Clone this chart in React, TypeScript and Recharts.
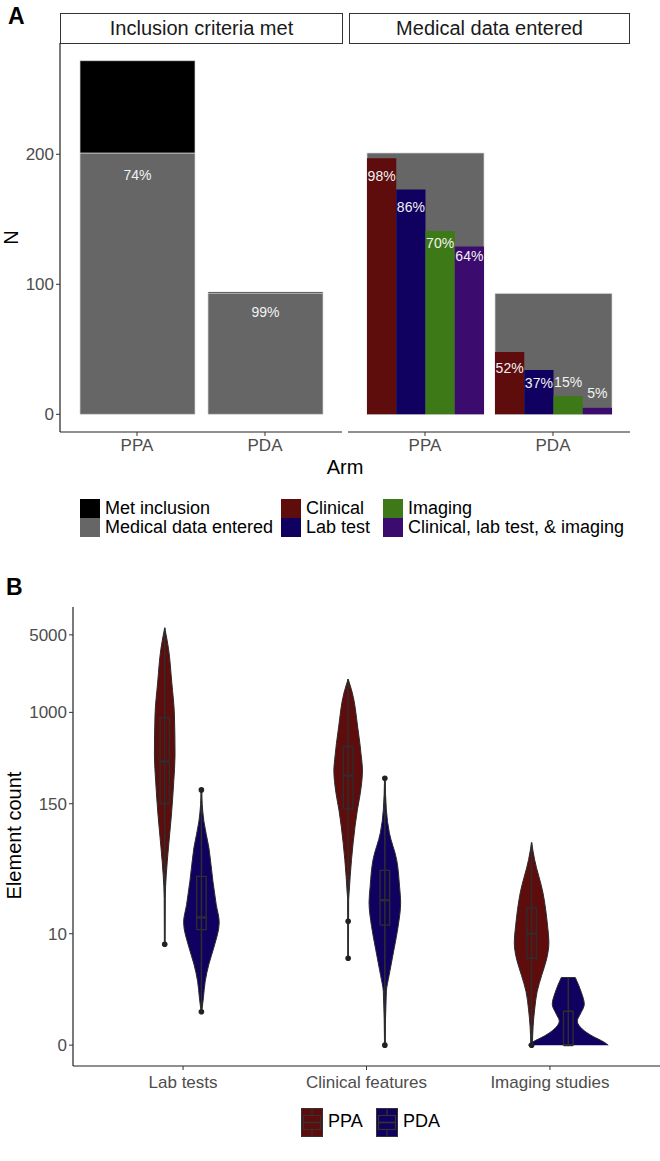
import React from 'react'
import { Area, Bar, BarChart, ComposedChart, LabelList, Line, Scatter, XAxis, YAxis } from 'recharts'

// ---------- Panel A data ----------
const arms = ['PPA', 'PDA']
const metInclusion = [272, 94]
const medicalEntered = [201, 93]
const clinical = [197, 48]
const labTest = [173, 34]
const imaging = [141, 14]
const combined = [129, 5]
const nTicks = [0, 100, 200]

// ---------- Panel B data ----------
const featureTypes = ['Lab tests', 'Clinical features', 'Imaging studies']
const countTicks = [0, 10, 150, 1000, 5000]

// violin outlines: element count -> relative density
const ppaLabCounts = [8, 21, 34, 60, 119, 237, 414, 948, 1876, 3793, 5780]
const ppaLabDensity = [0.3, 0.5, 1.5, 3.7, 6.7, 9, 10.3, 9.7, 7, 3.7, 0]
const pdaLabCounts = [1.5, 2.3, 3.5, 5.2, 7.5, 12.7, 18.5, 30, 60, 104, 147, 200]
const pdaLabDensity = [0.3, 2, 3.8, 7.5, 12.5, 17.8, 14.8, 11.5, 7.5, 2.5, 0.8, 0.3]
const ppaClinCounts = [5.9, 20.5, 23.7, 33, 67, 132, 188, 303, 373, 740, 1494, 1995]
const ppaClinDensity = [0.3, 0.5, 1, 2, 5, 9.2, 12.2, 14.3, 13.5, 9.5, 4.2, 0]
const pdaClinCounts = [0, 2.7, 4, 7.2, 11.7, 19.3, 26.9, 47, 82, 132, 255]
const pdaClinDensity = [0.3, 1.5, 4.2, 9.2, 13.3, 15.8, 14.7, 11.8, 4.5, 1.5, 0.3]
const ppaImgCounts = [0, 0.8, 1.6, 2.7, 4, 5.8, 8.3, 11.7, 23.7, 47, 67]
const ppaImgDensity = [0.8, 1.5, 3, 5.5, 10, 15, 17.3, 16, 11.3, 3, 0]
const pdaImgCounts = [0, 0.12, 0.38, 0.68, 1.04, 1.38, 1.91, 2.67, 3.82]
const pdaImgDensity = [40, 36, 24, 14, 9, 12, 16, 13, 7]

// boxplot stats per feature type (Lab, Clinical, Imaging)
const ppaQ1 = [150, 135, 5.9]
const ppaMedian = [361, 270, 10]
const ppaQ3 = [896, 492, 17.2]
const pdaQ1 = [10.9, 12, 0]
const pdaMedian = [14.1, 20.2, 0]
const pdaQ3 = [33.2, 37.6, 1.53]
const ppaOutliers = [[8], [13, 5.9], [0]]
const pdaOutliers = [[200, 1.5], [255, 0], []]

const RED = '#5e0c0c'
const NAVY = '#10005f'
const GREEN = '#3d7a17'
const PURPLE = '#3c0b6e'
const GREY = '#666666'
const AXIS = '#222222'
const TICK_TEXT = '#4d4d4d'
const FONT = '"Liberation Sans", Arial, Helvetica, sans-serif'

const pseudoLog = (v: number) => Math.asinh(v / 2) / Math.LN10
const VIOLIN_SCALE = 1 / 183.4
const DODGE = 0.1
const BOX_HALF = 0.026

const pct = (v: number, total: number) => `${Math.round((v / total) * 100)}%`

const leftData = arms.map((arm, i) => ({
  arm,
  medical: medicalEntered[i],
  rest: metInclusion[i] - medicalEntered[i],
  label: pct(medicalEntered[i], metInclusion[i]),
}))

const rightData = arms.map((arm, i) => ({
  arm,
  medical: medicalEntered[i],
  clinical: clinical[i],
  labTest: labTest[i],
  imaging: imaging[i],
  combined: combined[i],
  clinicalPct: pct(clinical[i], medicalEntered[i]),
  labPct: pct(labTest[i], medicalEntered[i]),
  imagingPct: pct(imaging[i], medicalEntered[i]),
  combinedPct: pct(combined[i], medicalEntered[i]),
}))

// label nudges (px from bar top)
const leftLabelDy = [22, 19]
const clinicalDy = [18, 16]
const labDy = [18, 13]
const imagingDy = [12, -14]
const combinedDy = [9, -15]

const pctLabel = (dy: number[]) => (p: any) => {
  const vb = p.viewBox || p
  const x = Number(vb.x) + Number(vb.width) / 2
  const y = Number(vb.y) + dy[p.index]
  return (
    <text x={x} y={y} textAnchor="middle" dominantBaseline="central" fill="#f2f2f2" fontSize={14} fontFamily={FONT}>
      {p.value}
    </text>
  )
}

const Y_DOMAIN_A: [number, number] = [-13.6, 285.6]

function Strip({ left, width, text }: { left: number; width: number; text: string }) {
  return (
    <div
      style={{
        position: 'absolute', left, top: 13, width, height: 31, boxSizing: 'border-box',
        border: '1.3px solid #333', display: 'flex', alignItems: 'center', justifyContent: 'center',
        fontSize: 20, color: '#1a1a1a',
      }}
    >
      {text}
    </div>
  )
}

function LegendKey({ left, top, color, text }: { left: number; top: number; color: string; text: string }) {
  return (
    <>
      <div style={{ position: 'absolute', left, top, width: 20, height: 19, background: color }} />
      <div style={{ position: 'absolute', left: left + 25, top, height: 19, lineHeight: '19px', fontSize: 18, whiteSpace: 'nowrap' }}>
        {text}
      </div>
    </>
  )
}

function ViolinKey({ left, color }: { left: number; color: string }) {
  return (
    <svg style={{ position: 'absolute', left, top: 1108 }} width={22} height={29}>
      <rect x={0.5} y={0.5} width={21} height={28} fill={color} stroke="#333" strokeWidth={1} />
      <rect x={2.5} y={7.5} width={17} height={14} fill="none" stroke="#333" strokeWidth={1.2} />
      <line x1={2.5} x2={19.5} y1={14.5} y2={14.5} stroke="#333" strokeWidth={1.6} />
      <line x1={11} x2={11} y1={1} y2={7.5} stroke="#333" strokeWidth={1.2} />
      <line x1={11} x2={11} y1={21.5} y2={28} stroke="#333" strokeWidth={1.2} />
    </svg>
  )
}

const violinSpecs = [
  { arm: 0, feature: 0, counts: ppaLabCounts, density: ppaLabDensity },
  { arm: 1, feature: 0, counts: pdaLabCounts, density: pdaLabDensity },
  { arm: 0, feature: 1, counts: ppaClinCounts, density: ppaClinDensity },
  { arm: 1, feature: 1, counts: pdaClinCounts, density: pdaClinDensity },
  { arm: 0, feature: 2, counts: ppaImgCounts, density: ppaImgDensity },
  { arm: 1, feature: 2, counts: pdaImgCounts, density: pdaImgDensity },
]

function violinSeries() {
  const out: React.ReactNode[] = []
  violinSpecs.forEach((v, k) => {
    const center = v.feature + 1 + (v.arm === 0 ? -DODGE : DODGE)
    const color = v.arm === 0 ? RED : NAVY
    const q1 = (v.arm === 0 ? ppaQ1 : pdaQ1)[v.feature]
    const med = (v.arm === 0 ? ppaMedian : pdaMedian)[v.feature]
    const q3 = (v.arm === 0 ? ppaQ3 : pdaQ3)[v.feature]
    const outline = v.counts.map((c, i) => ({
      t: pseudoLog(c),
      range: [center - v.density[i] * VIOLIN_SCALE, center + v.density[i] * VIOLIN_SCALE],
    }))
    const top = outline[outline.length - 1]
    const topEdge = [
      { t: top.t, x: top.range[0] },
      { t: top.t, x: top.range[1] },
    ]
    const whisker = [
      { t: pseudoLog(v.counts[0]), x: center },
      { t: pseudoLog(v.counts[v.counts.length - 1]), x: center },
    ]
    const box = [
      { t: pseudoLog(q1), x: center - BOX_HALF },
      { t: pseudoLog(q1), x: center + BOX_HALF },
      { t: pseudoLog(q3), x: center + BOX_HALF },
      { t: pseudoLog(q3), x: center - BOX_HALF },
      { t: pseudoLog(q1), x: center - BOX_HALF },
    ]
    const median = [
      { t: pseudoLog(med), x: center - BOX_HALF },
      { t: pseudoLog(med), x: center + BOX_HALF },
    ]
    out.push(
      <Area key={`v${k}`} data={outline} dataKey="range" type="monotone" fill={color} fillOpacity={1}
        stroke="#2b2b2b" strokeWidth={1} isAnimationActive={false} dot={false} activeDot={false} />,
      <Line key={`e${k}`} data={topEdge} dataKey="x" type="linear" stroke="#2b2b2b" strokeWidth={1}
        isAnimationActive={false} dot={false} activeDot={false} />,
      <Line key={`w${k}`} data={whisker} dataKey="x" type="linear" stroke="#2e2e2e" strokeWidth={1.5}
        isAnimationActive={false} dot={false} activeDot={false} />,
      <Line key={`b${k}`} data={box} dataKey="x" type="linear" stroke="#2e2e2e" strokeWidth={1.4}
        isAnimationActive={false} dot={false} activeDot={false} />,
      <Line key={`m${k}`} data={median} dataKey="x" type="linear" stroke="#2e2e2e" strokeWidth={2.2}
        isAnimationActive={false} dot={false} activeDot={false} />,
    )
  })
  const dots: { x: number; t: number }[] = []
  featureTypes.forEach((_, f) => {
    ppaOutliers[f].forEach((c) => dots.push({ x: f + 1 - DODGE, t: pseudoLog(c) }))
    pdaOutliers[f].forEach((c) => dots.push({ x: f + 1 + DODGE, t: pseudoLog(c) }))
  })
  out.push(
    <Scatter key="outliers" data={dots} dataKey="x" fill="#222" isAnimationActive={false}
      shape={(p: any) => <circle cx={p.cx} cy={p.cy} r={2.8} fill="#222" />} />,
  )
  return out
}

export default function App() {
  const tickStyle = { fontSize: 17, fill: TICK_TEXT, fontFamily: FONT }
  return (
    <div style={{ position: 'absolute', left: 0, top: 0, width: 660, height: 1161, background: '#fff', fontFamily: FONT, color: '#000' }}>
      {/* Panel A */}
      <div style={{ position: 'absolute', left: 8, top: 3, fontSize: 23, fontWeight: 'bold' }}>A</div>
      <Strip left={60} width={283} text="Inclusion criteria met" />
      <Strip left={349} width={281} text="Medical data entered" />

      <div style={{ position: 'absolute', left: 0, top: 0 }}>
        <BarChart width={342} height={470} data={leftData} margin={{ top: 43, right: 0, bottom: 0, left: 0 }}>
          <XAxis dataKey="arm" padding={{ left: 13, right: 13 }} height={38} tickSize={4} tickMargin={3}
            tick={tickStyle} axisLine={{ stroke: AXIS, strokeWidth: 1.2 }} tickLine={{ stroke: '#333' }} />
          <YAxis width={60} type="number" domain={Y_DOMAIN_A} ticks={nTicks} allowDataOverflow tickSize={4} tickMargin={2}
            tick={tickStyle} axisLine={{ stroke: AXIS, strokeWidth: 1.2 }} tickLine={{ stroke: '#333' }} />
          <Bar dataKey="medical" stackId="a" fill={GREY} barSize={115} stroke="#d6d6d6" strokeWidth={0.7} isAnimationActive={false}>
            <LabelList dataKey="label" content={pctLabel(leftLabelDy)} />
          </Bar>
          <Bar dataKey="rest" stackId="a" fill="#000" barSize={115} stroke="#d6d6d6" strokeWidth={0.7} isAnimationActive={false} />
        </BarChart>
      </div>

      <div style={{ position: 'absolute', left: 348, top: 0 }}>
        <BarChart width={282} height={470} data={rightData} margin={{ top: 43, right: 0, bottom: 0, left: 0 }} barGap={0}>
          <XAxis xAxisId="bg" dataKey="arm" padding={{ left: 13, right: 13 }} hide height={0} />
          <XAxis xAxisId="main" dataKey="arm" padding={{ left: 13, right: 13 }} height={38} tickSize={4} tickMargin={3}
            tick={tickStyle} axisLine={{ stroke: AXIS, strokeWidth: 1.2 }} tickLine={{ stroke: '#333' }} />
          <YAxis hide type="number" domain={Y_DOMAIN_A} allowDataOverflow />
          <Bar xAxisId="bg" dataKey="medical" fill={GREY} barSize={117} stroke="#d6d6d6" strokeWidth={0.7} isAnimationActive={false} />
          <Bar xAxisId="main" dataKey="clinical" fill={RED} barSize={29.25} isAnimationActive={false}>
            <LabelList dataKey="clinicalPct" content={pctLabel(clinicalDy)} />
          </Bar>
          <Bar xAxisId="main" dataKey="labTest" fill={NAVY} barSize={29.25} isAnimationActive={false}>
            <LabelList dataKey="labPct" content={pctLabel(labDy)} />
          </Bar>
          <Bar xAxisId="main" dataKey="imaging" fill={GREEN} barSize={29.25} isAnimationActive={false}>
            <LabelList dataKey="imagingPct" content={pctLabel(imagingDy)} />
          </Bar>
          <Bar xAxisId="main" dataKey="combined" fill={PURPLE} barSize={29.25} isAnimationActive={false}>
            <LabelList dataKey="combinedPct" content={pctLabel(combinedDy)} />
          </Bar>
        </BarChart>
      </div>

      <div style={{ position: 'absolute', left: 4, top: 226, fontSize: 20, transform: 'rotate(-90deg)' }}>N</div>
      <div style={{ position: 'absolute', left: 245, width: 200, top: 456, fontSize: 20, textAlign: 'center' }}>Arm</div>

      <LegendKey left={80} top={499} color="#000" text="Met inclusion" />
      <LegendKey left={80} top={518} color={GREY} text="Medical data entered" />
      <LegendKey left={281} top={499} color={RED} text="Clinical" />
      <LegendKey left={281} top={518} color={NAVY} text="Lab test" />
      <LegendKey left={383} top={499} color={GREEN} text="Imaging" />
      <LegendKey left={383} top={518} color={PURPLE} text="Clinical, lab test, & imaging" />

      {/* Panel B */}
      <div style={{ position: 'absolute', left: 6, top: 574, fontSize: 23, fontWeight: 'bold' }}>B</div>
      <div style={{ position: 'absolute', left: 0, top: 560 }}>
        <ComposedChart layout="vertical" width={660} height={540} margin={{ top: 47, right: 0, bottom: 0, left: 0 }}>
          <XAxis type="number" domain={[0.4, 3.6]} ticks={[1, 2, 3]} allowDataOverflow height={34} tickSize={4} tickMargin={6}
            tickFormatter={(v: number) => featureTypes[Math.round(v) - 1]} tick={tickStyle}
            axisLine={{ stroke: AXIS, strokeWidth: 1.2 }} tickLine={{ stroke: '#333' }} />
          <YAxis type="number" dataKey="t" domain={[-0.188, 3.95]} ticks={countTicks.map(pseudoLog)} allowDataOverflow width={73}
            reversed tickSize={4} tickMargin={2} tickFormatter={(_: number, i: number) => String(countTicks[i])} tick={tickStyle}
            axisLine={{ stroke: AXIS, strokeWidth: 1.2 }} tickLine={{ stroke: '#333' }} />
          {violinSeries()}
        </ComposedChart>
      </div>
      <div style={{ position: 'absolute', left: -86, width: 200, top: 824, fontSize: 20, textAlign: 'center', transform: 'rotate(-90deg)' }}>
        Element count
      </div>

      <ViolinKey left={301} color={RED} />
      <div style={{ position: 'absolute', left: 328, top: 1111, fontSize: 18 }}>PPA</div>
      <ViolinKey left={376} color={NAVY} />
      <div style={{ position: 'absolute', left: 403, top: 1111, fontSize: 18 }}>PDA</div>
    </div>
  )
}
